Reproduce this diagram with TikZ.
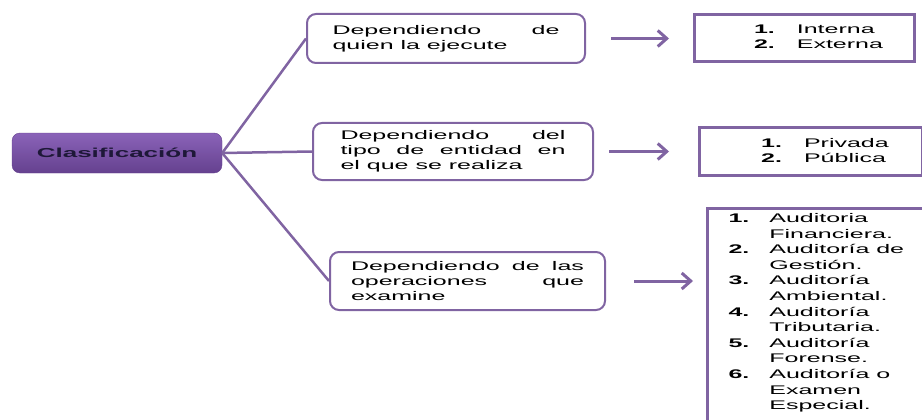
\documentclass[tikz,border=0pt]{standalone}
\usepackage{fontspec}
\setmainfont{Liberation Sans}[FakeStretch=2.0]
\usetikzlibrary{positioning,arrows.meta}
\definecolor{morado}{HTML}{8064A2}
\definecolor{moradoosc}{HTML}{65418F}
\definecolor{moradocla}{HTML}{8A63B8}
\definecolor{tinta}{HTML}{1E1838}

\begin{document}
\begin{tikzpicture}[x=1pt, y=-1pt, node distance=104pt, font=\fontsize{12.5}{15}\selectfont,
  main/.style = {draw=morado, line width=2pt, rounded corners=9pt, fill=white, align=justify, inner xsep=0pt},
  lista/.style = {draw=morado, line width=3pt, fill=white, inner sep=0pt},
  rama/.style = {draw=morado, line width=2.5pt},
  flecha/.style = {draw=morado, line width=3pt, -{Straight Barb[length=9pt,width=16pt]}}]
\useasboundingbox (0,0) rectangle (922,420);
\node[rounded corners=8pt, top color=moradocla, bottom color=moradoosc, draw=moradoosc, minimum width=210pt, minimum height=40pt, text=tinta, font=\fontsize{13}{15}\selectfont\bfseries] (clas) at (117,153) {Clasificación};
\node[main, text width=227pt, minimum width=278pt, minimum height=49pt] (b1) at (446,38.5) {Dependiendo de\linebreak quien la ejecute};
\node[main, text width=225pt, minimum width=280pt, minimum height=57pt] (b2) at (453,151.5) {Dependiendo del\linebreak tipo de entidad en\linebreak el que se realiza};
\node[main, text width=233pt, minimum width=275pt, minimum height=58pt] (b3) at (467.5,281) {Dependiendo de las\linebreak operaciones que\linebreak examine};
\node[lista, minimum width=220pt, minimum height=47pt, right=107pt of b1] (r1) {\begin{tabular}{@{\hspace{28pt}}l@{\hspace{22pt}}l@{}}
  \textbf{1.} & Interna\\
  \textbf{2.} & Externa
\end{tabular}};
\node[lista, minimum width=223pt, minimum height=48pt, right=104pt of b2] (r2) {\begin{tabular}{@{\hspace{28pt}}l@{\hspace{22pt}}l@{}}
  \textbf{1.} & Privada\\
  \textbf{2.} & Pública
\end{tabular}};
\node[lista, anchor=north west, inner xsep=21pt, inner ysep=3pt] (r3) at (706,207) {\def\arraystretch{1.04}\begin{tabular}[t]{@{}l@{\hspace{20pt}}l@{\hspace{80pt}}}
  \textbf{1.} & Auditoria\\
   & Financiera.\\
  \textbf{2.} & Auditoría de\\
   & Gestión.\\
  \textbf{3.} & Auditoría\\
   & Ambiental.\\
  \textbf{4.} & Auditoría\\
   & Tributaria.\\
  \textbf{5.} & Auditoría\\
   & Forense.\\
  \textbf{6.} & Auditoría o\\
   & Examen\\
   & Especial.\rule[-30pt]{0pt}{0pt}
\end{tabular}};
% ramas
\draw[rama] (clas.east) -- (b1.west);
\draw[rama] (clas.east) -- (b2.west);
\draw[rama] (clas.east) -- (b3.west);
% flechas
\draw[flecha, shorten <=25pt, shorten >=24pt] (b1) -- (r1);
\draw[flecha, shorten <=15pt, shorten >=29pt] (b2) -- (r2);
\draw[flecha, shorten <=28pt, shorten >=13pt] (b3.east) -- (b3.east -| r3.west);
\end{tikzpicture}
\end{document}
